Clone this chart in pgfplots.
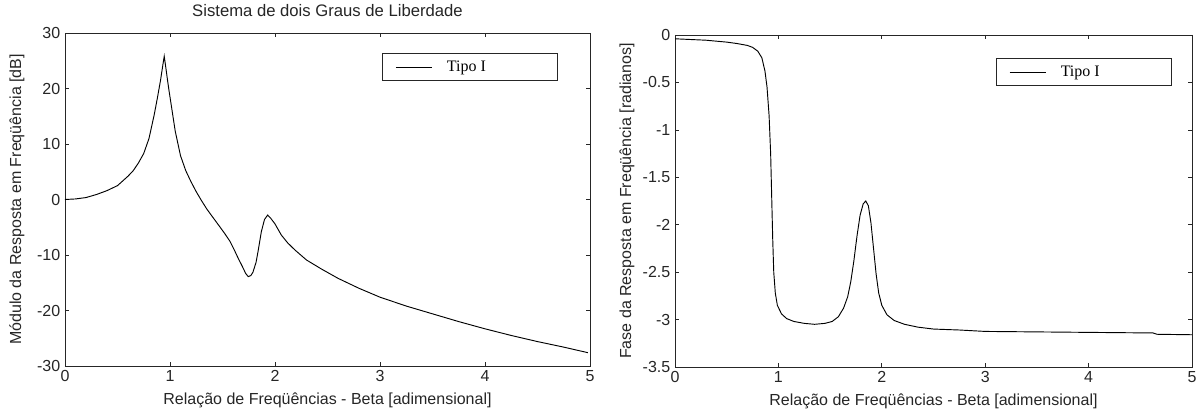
\documentclass[border=0pt]{standalone}
\usepackage{fontspec}
\setmainfont{Liberation Sans}
\newfontfamily\timesfont{Liberation Serif}
\usepackage{pgfplots}
\pgfplotsset{compat=1.18}

\pgfplotsset{
  refstyle/.style={
    scale only axis,
    axis line style={black!85, line width=0.6pt},
    tick align=inside,
    major tick length=3pt,
    tick style={black!85, line width=0.5pt},
    xmin=0, xmax=5, xtick={0,1,2,3,4,5},
    font=\fontsize{12}{14}\selectfont,
    tick label style={font=\fontsize{12}{14}\selectfont, text=black!85},
    /pgf/number format/assume math mode=true,
    label style={font=\fontsize{12}{14}\selectfont, text=black!85},
    xlabel style={at={(axis description cs:0.5,0)}, anchor=center, yshift=-25.5pt},
    legend style={draw=black!85, line width=0.6pt, fill=white, inner xsep=10pt, inner ysep=3.5pt,
      font=\timesfont\fontsize{12}{14}\selectfont, cells={anchor=west}},
    legend image code/.code={\draw[black, line width=0.6pt] (0pt,0pt) -- (27pt,0pt);},
    xlabel={Relação de Freqüências - Beta [adimensional]},
  }
}

\begin{document}
\begin{tikzpicture}
\begin{axis}[refstyle,
  name=mag,
  at={(0pt,0pt)}, anchor=south west,
  width=393.75pt, height=249.75pt,
  ymin=-30, ymax=30, ytick={-30,-20,-10,0,10,20,30},
  ylabel={Módulo da Resposta em Freqüência [dB]},
  ylabel style={at={(axis description cs:-0.0914,0.5)}, anchor=center},
  title={Sistema de dois Graus de Liberdade},
  title style={at={(axis description cs:0.5,1)}, anchor=center, yshift=11pt, font=\fontsize{12.5}{14}\selectfont, text=black!85},
  legend style={at={(0.939,0.94)}, anchor=north east},
]
\addplot[black, line width=0.7pt] coordinates {
(0.00,0.0) (0.10,0.1) (0.20,0.35) (0.30,0.9) (0.40,1.6) (0.50,2.5) (0.60,4.2) (0.65,5.2)
(0.70,6.6) (0.75,8.3) (0.80,11.0) (0.85,15.3) (0.88,18.3) (0.91,21.5) (0.93,24.0) (0.945,25.8)
(0.96,23.8) (0.975,21.7) (0.99,19.7) (1.02,16.0) (1.05,12.3) (1.10,7.9) (1.15,5.2) (1.20,3.2)
(1.25,1.4) (1.30,-0.2) (1.35,-1.7) (1.40,-3.0) (1.47,-4.8) (1.52,-6.1) (1.57,-7.5) (1.61,-9.0)
(1.65,-10.6) (1.69,-12.1) (1.72,-13.3) (1.745,-13.9) (1.77,-13.7) (1.79,-13.1) (1.82,-11.3)
(1.84,-9.2) (1.87,-5.8) (1.90,-3.6) (1.93,-2.8) (1.96,-3.4) (2.00,-4.4) (2.06,-6.4) (2.12,-7.8)
(2.19,-9.1) (2.30,-10.9) (2.44,-12.5) (2.60,-14.2) (2.80,-16.0) (3.00,-17.6) (3.25,-19.2)
(3.50,-20.6) (3.75,-22.0) (4.00,-23.3) (4.25,-24.5) (4.50,-25.6) (4.75,-26.6) (4.98,-27.6)
};
\addlegendentry{\makebox[80pt][l]{\hspace{9pt}Tipo I}}
\end{axis}

\begin{axis}[refstyle,
  name=fase,
  at={(457.5pt,-0.75pt)}, anchor=south west,
  width=387.75pt, height=249pt,
  ymin=-3.5, ymax=0, ytick={-3.5,-3,-2.5,-2,-1.5,-1,-0.5,0},
  ylabel={Fase da Resposta em Freqüência [radianos]},
  ylabel style={at={(axis description cs:-0.0928,0.5)}, anchor=center},
  legend style={at={(0.961,0.931)}, anchor=north east},
]
\addplot[black, line width=0.7pt] coordinates {
(0.00,-0.04) (0.10,-0.045) (0.20,-0.05) (0.30,-0.055) (0.40,-0.065) (0.50,-0.075) (0.60,-0.09)
(0.70,-0.11) (0.75,-0.13) (0.80,-0.17) (0.84,-0.24) (0.87,-0.38) (0.89,-0.55) (0.91,-0.85)
(0.925,-1.25) (0.935,-1.7) (0.945,-2.15) (0.955,-2.5) (0.97,-2.72) (0.99,-2.85) (1.03,-2.94)
(1.08,-2.99) (1.15,-3.02) (1.25,-3.04) (1.35,-3.05) (1.45,-3.04) (1.52,-3.02) (1.58,-2.97)
(1.63,-2.88) (1.67,-2.76) (1.70,-2.6) (1.73,-2.38) (1.76,-2.12) (1.79,-1.9) (1.82,-1.78)
(1.845,-1.75) (1.87,-1.8) (1.895,-1.98) (1.92,-2.25) (1.945,-2.52) (1.97,-2.72) (2.00,-2.85)
(2.05,-2.95) (2.12,-3.01) (2.22,-3.05) (2.35,-3.08) (2.50,-3.10) (2.75,-3.11) (3.00,-3.125)
(3.50,-3.13) (4.00,-3.135) (4.50,-3.14) (4.62,-3.14) (4.66,-3.155) (5.00,-3.16)
};
\addlegendentry{\makebox[80pt][l]{\hspace{9pt}Tipo I}}
\end{axis}
\pgfresetboundingbox
\path (-48.75pt,274.5pt) rectangle (848.25pt,-36pt);
\end{tikzpicture}
\end{document}
